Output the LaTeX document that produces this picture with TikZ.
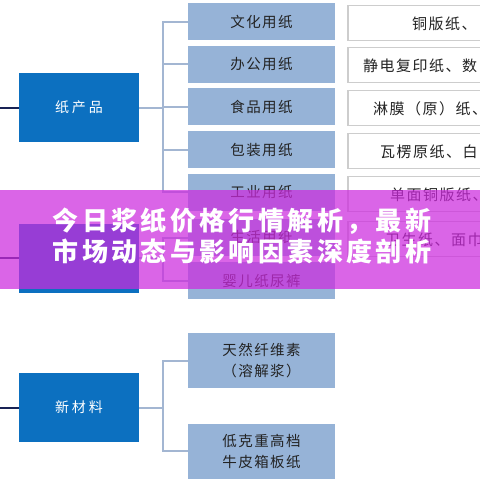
\documentclass[tikz,border=0pt]{standalone}
\usepackage{fontspec}
\newfontfamily\cjk{Noto Sans CJK SC}
\definecolor{catblue}{RGB}{12,112,192}
\definecolor{subblue}{RGB}{150,179,215}
\definecolor{connc}{RGB}{163,182,210}
\definecolor{rootline}{RGB}{25,35,85}
\definecolor{rbord}{RGB}{205,205,205}
\definecolor{txtdark}{RGB}{35,35,35}
\definecolor{band}{RGB}{205,42,222}
\tikzset{
  catbox/.style={rectangle, fill=catblue, minimum width=120pt, minimum height=69pt, inner sep=0pt, outer sep=0pt,
    text=white, font=\cjk\fontsize{14}{14}\selectfont\addfontfeature{LetterSpace=20}},
  subbox/.style={rectangle, fill=subblue, minimum width=147pt, minimum height=37pt, inner sep=0pt, outer sep=0pt,
    text=txtdark, align=center, font=\cjk\fontsize{14.5}{21}\selectfont\addfontfeature{LetterSpace=10}},
  descbox/.style={rectangle, draw=rbord, line width=1.6pt, fill=white, minimum width=272pt, minimum height=35pt, inner sep=0pt, outer sep=0pt},
  desctext/.style={anchor=west, inner sep=0pt, text=txtdark, font=\cjk\fontsize{15}{15}\selectfont\addfontfeature{LetterSpace=10}},
  conn/.style={draw=connc, line width=2pt},
  rootconn/.style={draw=rootline, line width=2pt},
  titletext/.style={text=white, inner sep=0pt, font=\cjk\bfseries\fontsize{26}{26}\selectfont\addfontfeature{LetterSpace=13}}
}
\begin{document}
\begin{tikzpicture}[x=1pt,y=-1pt]
\useasboundingbox (0,0) rectangle (480,480);
\clip (0,0) rectangle (480,480);
\fill[white] (0,0) rectangle (480,480);

% category boxes
\node[catbox] (pp) at (79,107.5) {纸产品};
\node[catbox] (mid) at (79,258) {};
\node[catbox] (nm) at (79,407.5) {新材料};

% root lines
\coordinate (r1) at (0,107.5);
\coordinate (r2) at (0,258);
\coordinate (r3) at (0,407.5);
\draw[rootconn] (r1) -- (pp.west);
\draw[rootconn] (r2) -- (mid.west);
\draw[rootconn] (r3) -- (nm.west);

% sub boxes
\node[subbox] (s1) at (261.5,21.5) {文化用纸};
\node[subbox] (s2) at (261.5,64) {办公用纸};
\node[subbox] (s3) at (261.5,106.5) {食品用纸};
\node[subbox] (s4) at (261.5,149.5) {包装用纸};
\node[subbox] (s5) at (261.5,192) {工业用纸};
\node[subbox] (s6) at (261.5,237.5) {生活用纸};
\node[subbox] (s7) at (261.5,280.5) {婴儿纸尿裤};
\node[subbox, minimum height=55pt] (n1) at (261.5,360.5) {天然纤维素\\（溶解浆）};
\node[subbox, minimum height=55pt] (n2) at (261.5,451) {低克重高档\\牛皮箱板纸};

% connectors
\foreach \c in {s1,s2,s3,s4,s5}{
  \draw[conn] (pp.east) -| ([xshift=-25pt]\c.west) -- (\c.west);
}
\foreach \c in {s6,s7}{
  \draw[conn] (mid.east) -| ([xshift=-25pt]\c.west) -- (\c.west);
}
\foreach \c in {n1,n2}{
  \draw[conn] (nm.east) -| ([xshift=-25pt]\c.west) -- (\c.west);
}

% description boxes
\node[descbox] (d1) at (484,23) {};
\node[descbox] (d2) at (484,65) {};
\node[descbox] (d3) at (484,108) {};
\node[descbox] (d4) at (484,151) {};
\node[descbox] (d5) at (484,194) {};
\node[descbox] (d6) at (484,239) {};
\node[desctext] (t1) at (412,24) {铜版纸、};
\node[desctext] (t2) at (363,66) {静电复印纸、数};
\node[desctext] (t3) at (373,109) {淋膜（原）纸、};
\node[desctext] (t4) at (380,152) {瓦楞原纸、白};
\node[desctext] (t5) at (390,195) {单面铜版纸、};
\node[desctext] (t6) at (385,240) {卫生纸、面巾};

% title band
\fill[band, opacity=0.72] (0,190) rectangle (480,289);
\node[titletext] (h1) at (242,221) {今日浆纸价格行情解析，最新};
\node[titletext] (h2) at (242,251) {市场动态与影响因素深度剖析};
\end{tikzpicture}
\end{document}
